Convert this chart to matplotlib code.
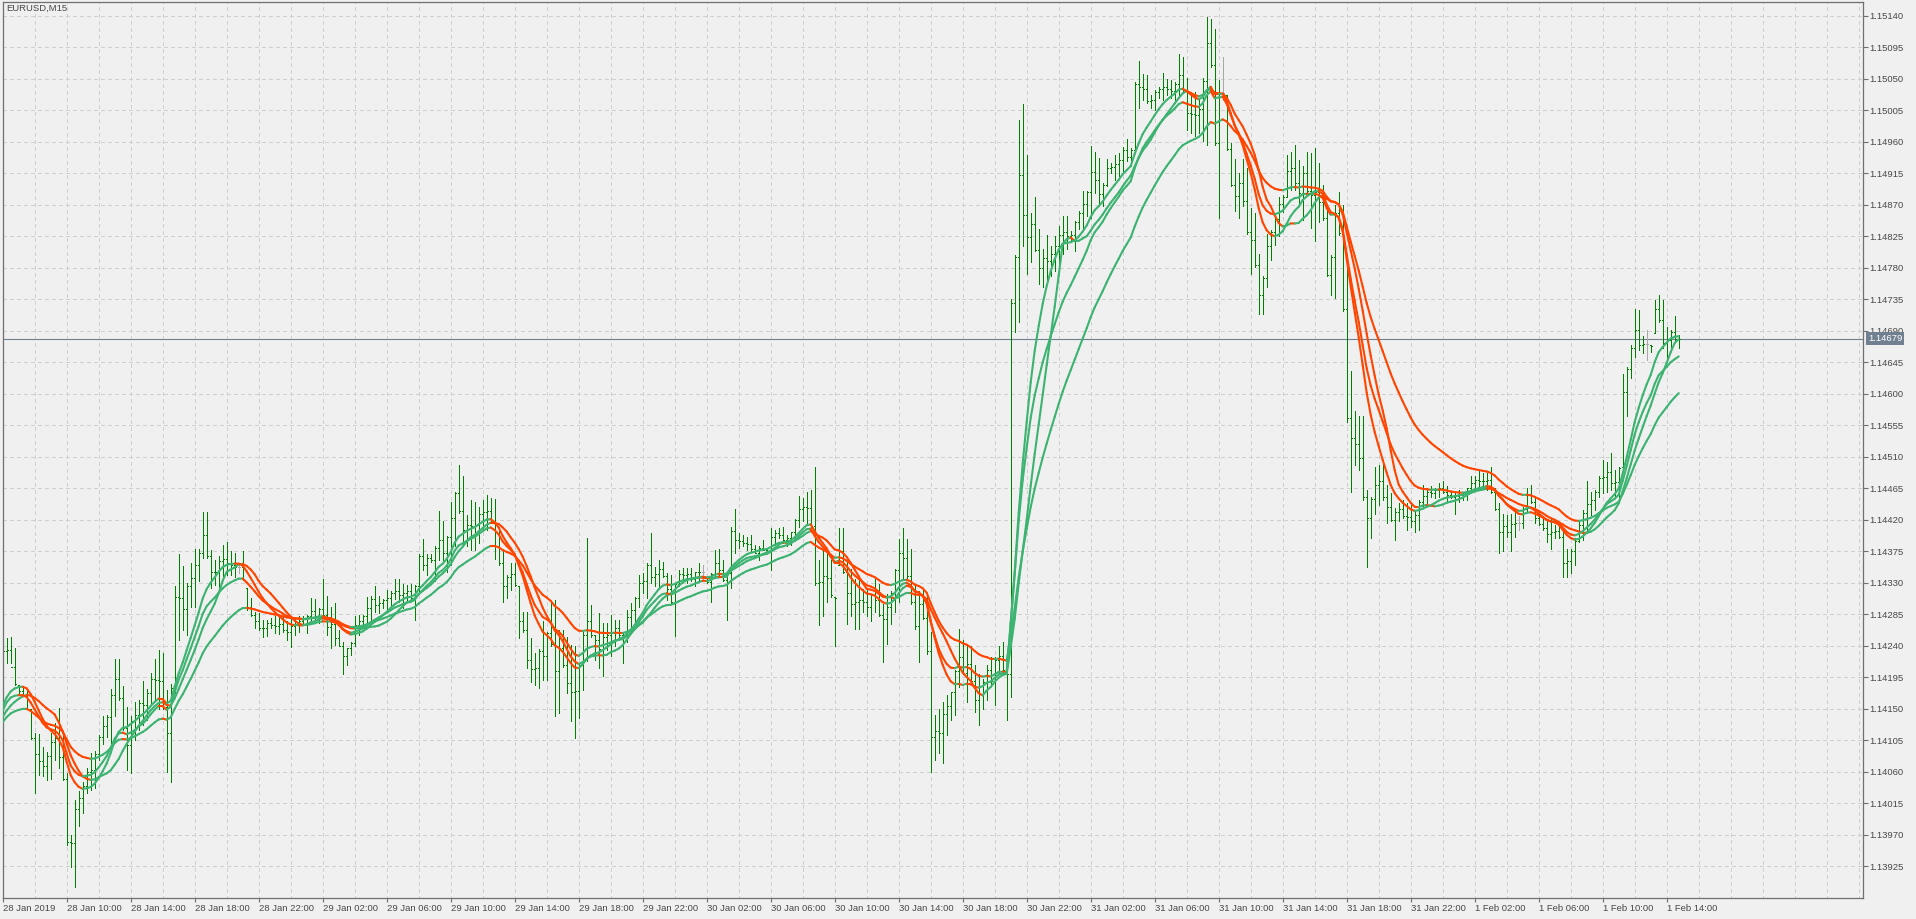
import matplotlib
matplotlib.use("Agg")
import matplotlib.pyplot as plt
import matplotlib.transforms as mtransforms
from matplotlib.collections import LineCollection
import numpy as np

# ----- DATA -----
# EURUSD M15, prices kept in points (0.00001) above 1.13000
BASE = 1.13

opens = [
    1225, 1233, 1234, 1210, 1184, 1175, 1168, 1149, 1108, 1085,
    1075, 1068, 1082, 1103, 1108, 1081, 1050, 960, 958, 1007,
    1023, 1040, 1060, 1063, 1085, 1110, 1125, 1138, 1170, 1192,
    1165, 1122, 1098, 1133, 1141, 1158, 1156, 1172, 1192, 1191,
    1189, 1152, 1115, 1180, 1310, 1308, 1293, 1325, 1337, 1355,
    1372, 1398, 1368, 1345, 1346, 1361, 1364, 1358, 1355, 1352,
    1352, 1322, 1295, 1284, 1275, 1265, 1266, 1272, 1270, 1269,
    1271, 1262, 1260, 1268, 1271, 1276, 1271, 1282, 1290, 1283,
    1292, 1284, 1267, 1271, 1251, 1240, 1225, 1237, 1244, 1270,
    1276, 1282, 1294, 1307, 1299, 1301, 1306, 1308, 1316, 1319,
    1312, 1315, 1318, 1308, 1325, 1368, 1356, 1366, 1363, 1380,
    1391, 1372, 1395, 1422, 1458, 1432, 1405, 1413, 1411, 1413,
    1428, 1431, 1433, 1417, 1382, 1358, 1325, 1339, 1342, 1325,
    1275, 1262, 1220, 1207, 1208, 1233, 1226, 1258, 1242, 1204,
    1237, 1213, 1187, 1174, 1176, 1212, 1255, 1276, 1255, 1248,
    1235, 1253, 1255, 1258, 1265, 1255, 1256, 1281, 1291, 1308,
    1330, 1333, 1355, 1339, 1343, 1350, 1340, 1321, 1303, 1328,
    1342, 1341, 1342, 1336, 1345, 1346, 1337, 1331, 1342, 1359,
    1348, 1334, 1344, 1404, 1391, 1390, 1387, 1386, 1378, 1373,
    1380, 1377, 1376, 1395, 1401, 1399, 1391, 1394, 1402, 1420,
    1435, 1438, 1437, 1411, 1330, 1331, 1340, 1337, 1310, 1356,
    1376, 1346, 1316, 1300, 1302, 1305, 1302, 1295, 1313, 1306,
    1284, 1278, 1295, 1316, 1348, 1372, 1365, 1340, 1302, 1268,
    1300, 1280, 1232, 1109, 1118, 1116, 1142, 1154, 1174, 1204,
    1224, 1201, 1214, 1190, 1163, 1171, 1188, 1205, 1190, 1219,
    1225, 1203, 1200, 1730, 1795, 1913, 1856, 1824, 1843, 1806,
    1780, 1794, 1790, 1800, 1811, 1827, 1831, 1826, 1827, 1845,
    1858, 1872, 1888, 1917, 1905, 1885, 1898, 1923, 1924, 1928,
    1934, 1949, 1939, 1948, 2043, 2039, 2036, 2018, 2020, 2031,
    2036, 2039, 2036, 2033, 2043, 2056, 2033, 2002, 2000, 1998,
    2007, 2047, 2102, 2070, 1958, 2030, 2027, 1950, 1898, 1883,
    1902, 1876, 1832, 1820, 1784, 1741, 1766, 1812, 1832, 1850,
    1872, 1882, 1918, 1923, 1901, 1887, 1915, 1890, 1884, 1888,
    1874, 1852, 1770, 1796, 1858, 1830, 1722, 1565, 1537, 1529,
    1508, 1452, 1423, 1450, 1470, 1475, 1452, 1438, 1420, 1431,
    1435, 1425, 1424, 1418, 1427, 1446, 1454, 1460, 1458, 1463,
    1466, 1460, 1455, 1452, 1454, 1455, 1457, 1465, 1472, 1477,
    1476, 1475, 1477, 1460, 1436, 1402, 1411, 1402, 1414, 1415,
    1415, 1436, 1457, 1446, 1423, 1414, 1408, 1400, 1403, 1404,
    1396, 1359, 1361, 1375, 1390, 1412, 1430, 1443, 1448, 1460,
    1480, 1481, 1489, 1472, 1474, 1496, 1603, 1636, 1666, 1691,
    1670, 1671, 1670, 1687, 1722, 1706, 1672, 1677, 1688, 1678,
]

highs = [
    1245, 1251, 1252, 1237, 1184, 1182, 1177, 1149, 1115, 1114,
    1096, 1088, 1115, 1130, 1151, 1115, 1058, 970, 1020, 1032,
    1046, 1065, 1087, 1089, 1113, 1139, 1141, 1178, 1221, 1221,
    1182, 1153, 1139, 1160, 1162, 1189, 1178, 1201, 1221, 1234,
    1229, 1177, 1186, 1325, 1371, 1354, 1330, 1358, 1378, 1378,
    1431, 1431, 1377, 1363, 1369, 1384, 1388, 1375, 1372, 1359,
    1376, 1322, 1308, 1289, 1287, 1277, 1277, 1280, 1282, 1282,
    1282, 1275, 1282, 1280, 1282, 1282, 1284, 1308, 1307, 1294,
    1336, 1311, 1296, 1301, 1263, 1245, 1237, 1246, 1282, 1284,
    1284, 1310, 1311, 1325, 1311, 1307, 1320, 1318, 1336, 1336,
    1329, 1327, 1329, 1327, 1371, 1392, 1371, 1371, 1383, 1433,
    1419, 1397, 1446, 1460, 1499, 1482, 1427, 1449, 1445, 1439,
    1449, 1456, 1451, 1450, 1407, 1377, 1341, 1358, 1358, 1325,
    1289, 1288, 1251, 1229, 1235, 1275, 1260, 1303, 1306, 1263,
    1263, 1253, 1241, 1239, 1215, 1260, 1394, 1299, 1256, 1287,
    1272, 1272, 1284, 1277, 1277, 1258, 1291, 1301, 1310, 1341,
    1344, 1358, 1401, 1353, 1363, 1360, 1344, 1341, 1330, 1349,
    1351, 1351, 1351, 1346, 1358, 1356, 1337, 1344, 1377, 1378,
    1363, 1346, 1410, 1435, 1401, 1399, 1396, 1399, 1384, 1382,
    1391, 1377, 1408, 1406, 1408, 1410, 1399, 1403, 1421, 1454,
    1451, 1460, 1463, 1495, 1363, 1377, 1377, 1363, 1310, 1408,
    1408, 1361, 1350, 1336, 1339, 1321, 1321, 1314, 1336, 1329,
    1300, 1314, 1318, 1350, 1393, 1408, 1393, 1379, 1325, 1318,
    1321, 1311, 1260, 1141, 1149, 1159, 1170, 1174, 1206, 1264,
    1249, 1242, 1239, 1213, 1199, 1192, 1213, 1224, 1224, 1239,
    1246, 1203, 1735, 1798, 1991, 2014, 1941, 1858, 1881, 1836,
    1807, 1827, 1811, 1825, 1840, 1854, 1854, 1833, 1847, 1861,
    1890, 1890, 1954, 1946, 1937, 1901, 1935, 1930, 1941, 1944,
    1953, 1964, 1951, 2045, 2076, 2057, 2056, 2027, 2034, 2038,
    2059, 2050, 2049, 2045, 2086, 2081, 2052, 2031, 2031, 2023,
    2052, 2139, 2136, 2122, 2049, 2081, 2027, 1959, 1935, 1915,
    1935, 1923, 1865, 1858, 1800, 1768, 1829, 1834, 1852, 1882,
    1884, 1941, 1945, 1956, 1934, 1925, 1946, 1944, 1951, 1930,
    1899, 1865, 1799, 1870, 1889, 1870, 1782, 1632, 1575, 1568,
    1568, 1463, 1453, 1496, 1499, 1501, 1470, 1458, 1437, 1444,
    1449, 1444, 1441, 1434, 1449, 1470, 1465, 1468, 1465, 1473,
    1475, 1468, 1460, 1458, 1463, 1460, 1465, 1482, 1482, 1491,
    1487, 1487, 1496, 1465, 1444, 1429, 1427, 1429, 1434, 1425,
    1439, 1465, 1470, 1453, 1434, 1422, 1418, 1422, 1413, 1413,
    1406, 1379, 1379, 1394, 1418, 1434, 1475, 1460, 1463, 1482,
    1506, 1503, 1515, 1491, 1496, 1629, 1639, 1670, 1722, 1720,
    1682, 1691, 1670, 1734, 1741, 1734, 1696, 1691, 1711, 1684,
]

lows = [
    1205, 1215, 1215, 1184, 1170, 1168, 1149, 1107, 1030, 1056,
    1054, 1048, 1050, 1077, 1065, 1048, 956, 924, 896, 982,
    1001, 1030, 1034, 1037, 1077, 1099, 1110, 1099, 1139, 1163,
    1120, 1063, 1058, 1106, 1120, 1127, 1134, 1158, 1163, 1149,
    1149, 1060, 1045, 1172, 1249, 1263, 1256, 1296, 1296, 1332,
    1365, 1365, 1322, 1327, 1322, 1339, 1341, 1341, 1339, 1344,
    1334, 1291, 1282, 1265, 1263, 1253, 1254, 1265, 1258, 1257,
    1260, 1249, 1238, 1256, 1260, 1270, 1258, 1272, 1272, 1272,
    1282, 1256, 1237, 1241, 1239, 1199, 1213, 1227, 1239, 1256,
    1268, 1270, 1277, 1289, 1287, 1294, 1291, 1297, 1307, 1302,
    1294, 1303, 1307, 1277, 1315, 1349, 1341, 1360, 1332, 1363,
    1363, 1346, 1356, 1383, 1430, 1382, 1382, 1377, 1377, 1387,
    1406, 1406, 1415, 1364, 1356, 1302, 1308, 1320, 1325, 1251,
    1260, 1208, 1188, 1184, 1180, 1191, 1191, 1239, 1139, 1144,
    1210, 1172, 1132, 1108, 1137, 1177, 1218, 1253, 1220, 1208,
    1197, 1234, 1225, 1239, 1253, 1215, 1246, 1260, 1272, 1296,
    1315, 1308, 1330, 1325, 1322, 1339, 1306, 1301, 1254, 1325,
    1332, 1330, 1332, 1325, 1332, 1334, 1330, 1303, 1337, 1340,
    1332, 1277, 1322, 1372, 1380, 1382, 1377, 1375, 1372, 1363,
    1377, 1375, 1349, 1384, 1394, 1387, 1382, 1384, 1394, 1410,
    1418, 1415, 1410, 1327, 1270, 1282, 1303, 1310, 1239, 1356,
    1344, 1271, 1282, 1264, 1264, 1289, 1282, 1275, 1289, 1282,
    1217, 1242, 1271, 1289, 1303, 1336, 1336, 1300, 1264, 1217,
    1278, 1228, 1059, 1077, 1087, 1073, 1113, 1134, 1141, 1181,
    1199, 1159, 1188, 1145, 1127, 1149, 1163, 1185, 1156, 1199,
    1203, 1134, 1167, 1689, 1703, 1811, 1771, 1789, 1804, 1757,
    1753, 1761, 1768, 1775, 1782, 1800, 1807, 1818, 1804, 1836,
    1836, 1854, 1851, 1887, 1872, 1869, 1897, 1915, 1905, 1912,
    1915, 1933, 1926, 1948, 2009, 2020, 2016, 2009, 2005, 2023,
    2020, 2027, 2023, 2020, 2027, 2031, 1977, 1973, 1969, 1973,
    1962, 1955, 2067, 1955, 1851, 2020, 1948, 1897, 1861, 1851,
    1869, 1829, 1771, 1782, 1714, 1714, 1753, 1791, 1813, 1825,
    1860, 1882, 1891, 1891, 1868, 1849, 1884, 1837, 1818, 1846,
    1849, 1768, 1741, 1737, 1827, 1718, 1560, 1460, 1499, 1491,
    1449, 1353, 1394, 1429, 1441, 1449, 1415, 1418, 1391, 1418,
    1422, 1406, 1410, 1403, 1406, 1439, 1444, 1453, 1451, 1453,
    1458, 1446, 1451, 1429, 1446, 1449, 1449, 1463, 1463, 1463,
    1465, 1463, 1458, 1434, 1372, 1375, 1396, 1375, 1396, 1406,
    1408, 1432, 1444, 1415, 1413, 1406, 1389, 1379, 1394, 1394,
    1339, 1339, 1344, 1356, 1389, 1391, 1401, 1427, 1434, 1453,
    1458, 1460, 1463, 1453, 1453, 1496, 1568, 1622, 1653, 1663,
    1658, 1649, 1660, 1687, 1703, 1665, 1649, 1663, 1675, 1665,
]

closes = [
    1233, 1234, 1210, 1186, 1175, 1168, 1150, 1108, 1085, 1075,
    1068, 1082, 1103, 1108, 1081, 1050, 960, 958, 1007, 1023,
    1040, 1060, 1063, 1085, 1110, 1125, 1138, 1170, 1192, 1165,
    1122, 1098, 1133, 1141, 1158, 1156, 1172, 1192, 1191, 1189,
    1152, 1115, 1180, 1310, 1308, 1293, 1325, 1337, 1355, 1372,
    1398, 1368, 1345, 1346, 1361, 1364, 1358, 1355, 1352, 1352,
    1336, 1295, 1284, 1275, 1265, 1266, 1272, 1270, 1269, 1271,
    1262, 1260, 1268, 1271, 1276, 1271, 1282, 1290, 1283, 1292,
    1284, 1267, 1271, 1251, 1240, 1225, 1237, 1244, 1270, 1276,
    1282, 1294, 1307, 1299, 1301, 1306, 1308, 1316, 1319, 1312,
    1315, 1318, 1308, 1325, 1368, 1356, 1366, 1363, 1380, 1391,
    1372, 1395, 1422, 1458, 1432, 1405, 1413, 1411, 1413, 1428,
    1431, 1433, 1417, 1382, 1358, 1325, 1339, 1342, 1327, 1275,
    1262, 1220, 1207, 1208, 1233, 1226, 1258, 1242, 1204, 1237,
    1213, 1187, 1174, 1176, 1212, 1255, 1276, 1255, 1248, 1235,
    1253, 1255, 1258, 1265, 1255, 1256, 1281, 1291, 1308, 1330,
    1333, 1355, 1339, 1343, 1350, 1340, 1321, 1303, 1328, 1342,
    1341, 1342, 1336, 1345, 1346, 1346, 1331, 1342, 1359, 1348,
    1334, 1344, 1404, 1391, 1390, 1387, 1386, 1378, 1373, 1380,
    1377, 1376, 1395, 1401, 1399, 1391, 1394, 1402, 1420, 1435,
    1438, 1437, 1411, 1330, 1331, 1340, 1337, 1312, 1308, 1376,
    1346, 1316, 1300, 1302, 1305, 1302, 1295, 1313, 1306, 1284,
    1278, 1295, 1316, 1348, 1372, 1365, 1340, 1302, 1268, 1300,
    1280, 1232, 1109, 1118, 1116, 1142, 1154, 1174, 1204, 1224,
    1201, 1214, 1190, 1163, 1171, 1188, 1205, 1190, 1219, 1225,
    1205, 1200, 1730, 1795, 1913, 1856, 1824, 1843, 1806, 1780,
    1794, 1790, 1800, 1811, 1827, 1831, 1826, 1827, 1845, 1858,
    1872, 1888, 1917, 1905, 1885, 1898, 1923, 1924, 1928, 1934,
    1949, 1939, 1948, 2043, 2039, 2036, 2018, 2020, 2031, 2036,
    2039, 2036, 2033, 2043, 2056, 2033, 2002, 2000, 1998, 2007,
    2047, 2102, 2070, 1958, 2030, 2030, 1950, 1898, 1883, 1902,
    1876, 1832, 1820, 1784, 1741, 1766, 1812, 1832, 1850, 1872,
    1882, 1918, 1923, 1901, 1887, 1915, 1890, 1884, 1888, 1874,
    1852, 1770, 1796, 1858, 1830, 1722, 1565, 1537, 1529, 1508,
    1452, 1423, 1450, 1470, 1475, 1452, 1438, 1420, 1431, 1435,
    1425, 1424, 1418, 1427, 1446, 1454, 1460, 1458, 1463, 1466,
    1460, 1455, 1452, 1454, 1455, 1457, 1465, 1472, 1477, 1476,
    1475, 1477, 1460, 1436, 1402, 1411, 1402, 1414, 1415, 1415,
    1436, 1457, 1446, 1423, 1414, 1408, 1400, 1403, 1404, 1396,
    1359, 1361, 1375, 1390, 1412, 1430, 1443, 1448, 1460, 1480,
    1481, 1489, 1472, 1474, 1494, 1603, 1636, 1666, 1691, 1670,
    1671, 1671, 1668, 1722, 1706, 1672, 1677, 1688, 1678, 1679,
]

# closes before the first visible bar (off screen), they only feed the averages
warmup_closes = [1090, 1095, 1100, 1098, 1102, 1105, 1100, 1108, 1112, 1110,
                 1115, 1120, 1118, 1125, 1130, 1138, 1145, 1150, 1160, 1175]

time_labels = [
    "28 Jan 2019", "28 Jan 10:00", "28 Jan 14:00", "28 Jan 18:00", "28 Jan 22:00",
    "29 Jan 02:00", "29 Jan 06:00", "29 Jan 10:00", "29 Jan 14:00", "29 Jan 18:00",
    "29 Jan 22:00", "30 Jan 02:00", "30 Jan 06:00", "30 Jan 10:00", "30 Jan 14:00",
    "30 Jan 18:00", "30 Jan 22:00", "31 Jan 02:00", "31 Jan 06:00", "31 Jan 10:00",
    "31 Jan 14:00", "31 Jan 18:00", "31 Jan 22:00", "1 Feb 02:00", "1 Feb 06:00",
    "1 Feb 10:00", "1 Feb 14:00",
]
BARS_PER_LABEL = 16          # 4 hours of M15 bars
price_ticks = list(range(925, 2141, 45))
current_price = 1679
MA_PERIOD = 14

assert len(opens) == len(highs) == len(lows) == len(closes)


# ----- MOVING AVERAGES -----
def sma(x, n):
    out = np.full(len(x), np.nan)
    c = np.cumsum(np.insert(x, 0, 0.0))
    out[n - 1:] = (c[n:] - c[:-n]) / n
    return out


def ema(x, n):
    a = 2.0 / (n + 1)
    out = np.empty(len(x))
    out[0] = x[0]
    for i in range(1, len(x)):
        out[i] = out[i - 1] + a * (x[i] - out[i - 1])
    return out


def smma(x, n):
    out = np.full(len(x), np.nan)
    out[n - 1] = x[:n].mean()
    for i in range(n, len(x)):
        out[i] = (out[i - 1] * (n - 1) + x[i]) / n
    return out


def lwma(x, n):
    w = np.arange(1, n + 1, dtype=float)
    out = np.full(len(x), np.nan)
    for i in range(n - 1, len(x)):
        out[i] = np.dot(x[i - n + 1:i + 1], w) / w.sum()
    return out


# ----- FIGURE -----
W, H = 1916, 919
BG = "#f0f0f0"
plt.rcParams["font.family"] = ["Liberation Sans", "DejaVu Sans"]
plt.rcParams["lines.scale_dashes"] = False

fig = plt.figure(figsize=(W / 100, H / 100), dpi=100, facecolor=BG)
left, right, top, bottom = 2.7, 1863, 2, 898
ax = fig.add_axes([left / W, (H - bottom) / H, (right - left) / W, (bottom - top) / H])
ax.set_facecolor(BG)

px_per_pt = 31.49 / 45
ax.set_xlim(0, (right - left) / 4)
ax.set_ylim(2140 - (bottom - 16) / px_per_pt, 2140 + (16 - top) / px_per_pt)

grid_kw = dict(color="#cfcfcf", linewidth=0.72, linestyles=(0, (2.2, 2.2)), zorder=0, antialiased=False)
ax.hlines(price_ticks, 0, 470, **grid_kw)
ax.vlines(np.arange(8, 466, 8), 0, 3000, **grid_kw)

# bars
o = np.array(opens, float); h = np.array(highs, float)
l = np.array(lows, float); c = np.array(closes, float)
segs, cols = [], []
for i in range(len(c)):
    col = "#a8a8a8" if o[i] == c[i] else "#008000"
    segs += [[(i, l[i]), (i, h[i])], [(i - 0.3, o[i]), (i, o[i])], [(i, c[i]), (i + 0.3, c[i])]]
    cols += [col] * 3
ax.add_collection(LineCollection(segs, colors=cols, linewidths=0.7, antialiased=False, zorder=2))

# current price line
ax.axhline(current_price, color="#708090", linewidth=0.8, zorder=1.5)

# averages, coloured by slope
allc = np.array(warmup_closes + closes, float)
xa = np.arange(len(allc)) - len(warmup_closes)
for fn in (sma, ema, smma, lwma):
    ma = fn(allc, MA_PERIOD)
    msegs, mcols = [], []
    for i in range(1, len(ma)):
        if np.isnan(ma[i - 1]) or np.isnan(ma[i]):
            continue
        msegs.append([(xa[i - 1], ma[i - 1]), (xa[i], ma[i])])
        mcols.append("#3cb371" if ma[i] >= ma[i - 1] else "#ff4500")
    ax.add_collection(LineCollection(msegs, colors=mcols, linewidths=1.5,
                                     capstyle="round", zorder=3))

# axes styling
for s in ax.spines.values():
    s.set_color("#707070")
    s.set_linewidth(0.9)

ax.set_xticks(np.arange(len(time_labels)) * BARS_PER_LABEL)
ax.set_xticklabels(time_labels, ha="left")
ax.tick_params(axis="x", direction="out", length=3, width=0.8, pad=1.5,
               colors="#707070", labelcolor="#484848", labelsize=6.8)

ax.yaxis.tick_right()
ax.set_yticks(price_ticks)
ax.set_yticklabels([f"{BASE + v / 1e5:.5f}" for v in price_ticks])
ax.tick_params(axis="y", direction="out", length=3.6, width=0.8, pad=1,
               colors="#707070", labelcolor="#484848", labelsize=6.8)

# current price tag
tag_tr = mtransforms.offset_copy(ax.get_yaxis_transform(), fig=fig, x=5, y=0, units="dots")
ax.text(1.0, current_price, f"{BASE + current_price / 1e5:.5f}", transform=tag_tr,
        ha="left", va="center", color="white", fontsize=6.8, zorder=10, clip_on=False,
        bbox=dict(boxstyle="square,pad=0.2", facecolor="#708090", edgecolor="none"))

fig.text(6 / W, 1 - 8.5 / H, "EURUSD,M15", ha="left", va="center", fontsize=6.8, color="#484848")

fig.savefig("out.png", dpi=100, facecolor=BG)
